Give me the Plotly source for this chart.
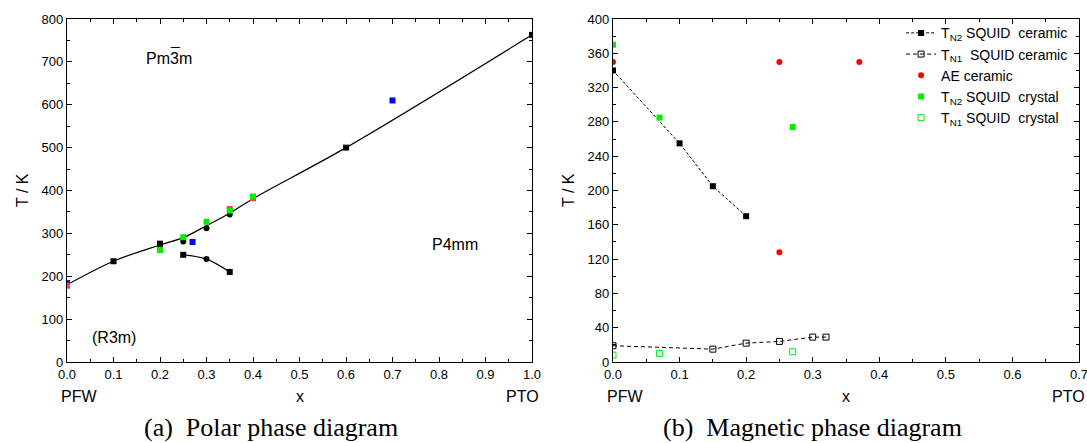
import plotly.graph_objects as go

W, H = 1087, 443

# ---------------- Panel (a): polar phase diagram ----------------
a_line_x = [0.0, 0.1, 0.2, 0.25, 0.3, 0.35, 0.4, 0.6, 1.0]
a_line_y = [180, 235, 273, 290, 318, 347, 381, 500, 763]
a_low_x = [0.25, 0.3, 0.35]
a_low_y = [250, 240, 210]
a_blksq_x = [0.1, 0.2, 0.25, 0.35, 0.6, 1.0]
a_blksq_y = [235, 276, 250, 210, 500, 763]
a_blkci_x = [0.25, 0.3, 0.35, 0.3]
a_blkci_y = [281, 312, 344, 240]
a_green_x = [0.2, 0.25, 0.3, 0.35, 0.4]
a_green_y = [261, 291, 327, 353, 386]
a_red_x = [0.0, 0.2, 0.35, 0.4]
a_red_y = [178, 266, 357, 382]
a_blue_x = [0.0, 0.27, 0.7]
a_blue_y = [184, 280, 610]

# ---------------- Panel (b): magnetic phase diagram ----------------
tn2_cer_x = [0.0, 0.1, 0.15, 0.2]
tn2_cer_y = [340, 255, 205, 170]
tn1_cer_x = [0.0, 0.15, 0.2, 0.25, 0.3, 0.32]
tn1_cer_y = [19, 15, 22, 24, 29, 29]
ae_x = [0.0, 0.25, 0.37, 0.25]
ae_y = [350, 350, 350, 128]
tn2_cry_x = [0.0, 0.07, 0.27]
tn2_cry_y = [370, 285, 274]
tn1_cry_x = [0.0, 0.07, 0.27]
tn1_cry_y = [8, 10, 12]

FONT = "Liberation Sans, Arial, sans-serif"
SERIF = "Liberation Serif, Times New Roman, serif"
SP = "\u00a0"

fig = go.Figure()

# panel a traces
fig.add_trace(go.Scatter(x=a_line_x, y=a_line_y, mode="lines", line=dict(color="black", width=1.2, shape="spline"),
                         xaxis="x", yaxis="y", showlegend=False, hoverinfo="skip"))
fig.add_trace(go.Scatter(x=a_low_x, y=a_low_y, mode="lines", line=dict(color="black", width=1.2, shape="spline"),
                         xaxis="x", yaxis="y", showlegend=False, hoverinfo="skip"))
fig.add_trace(go.Scatter(x=a_blue_x, y=a_blue_y, mode="markers", marker=dict(symbol="square", size=6, color="#0000ff"),
                         xaxis="x", yaxis="y", showlegend=False))
fig.add_trace(go.Scatter(x=a_red_x, y=a_red_y, mode="markers", marker=dict(symbol="square", size=6, color="#ff4040"),
                         xaxis="x", yaxis="y", showlegend=False))
fig.add_trace(go.Scatter(x=a_blkci_x, y=a_blkci_y, mode="markers", marker=dict(symbol="circle", size=6, color="black"),
                         xaxis="x", yaxis="y", showlegend=False))
fig.add_trace(go.Scatter(x=a_green_x, y=a_green_y, mode="markers", marker=dict(symbol="square", size=6, color="#00ee00"),
                         xaxis="x", yaxis="y", showlegend=False))
fig.add_trace(go.Scatter(x=a_blksq_x, y=a_blksq_y, mode="markers", marker=dict(symbol="square", size=6, color="black"),
                         xaxis="x", yaxis="y", showlegend=False))

# panel b traces
fig.add_trace(go.Scatter(x=tn2_cer_x, y=tn2_cer_y, mode="lines+markers", name="T<sub>N2</sub> SQUID " + SP + "ceramic",
                         line=dict(color="black", width=1, dash="3px,2px"),
                         marker=dict(symbol="square", size=6, color="black"), xaxis="x2", yaxis="y2"))
fig.add_trace(go.Scatter(x=tn1_cer_x, y=tn1_cer_y, mode="lines+markers", name="T<sub>N1</sub> " + SP + "SQUID ceramic",
                         line=dict(color="black", width=1, dash="4px,3px"),
                         marker=dict(symbol="square-open", size=6, color="black", line=dict(width=1)), xaxis="x2", yaxis="y2"))
fig.add_trace(go.Scatter(x=ae_x, y=ae_y, mode="markers", name="AE ceramic",
                         marker=dict(symbol="circle", size=6, color="#ff0000"), xaxis="x2", yaxis="y2"))
fig.add_trace(go.Scatter(x=tn2_cry_x, y=tn2_cry_y, mode="markers", name="T<sub>N2</sub> SQUID " + SP + "crystal",
                         marker=dict(symbol="square", size=6, color="#00ee00"), xaxis="x2", yaxis="y2"))
fig.add_trace(go.Scatter(x=tn1_cry_x, y=tn1_cry_y, mode="markers", name="T<sub>N1</sub> SQUID " + SP + "crystal",
                         marker=dict(symbol="square-open", size=6, color="#00ee00", line=dict(width=1)), xaxis="x2", yaxis="y2"))

ydom = [1 - 362 / H, 1 - 19 / H]
common = dict(showline=True, linecolor="black", linewidth=1.3, mirror="allticks", ticks="inside", ticklen=5,
              tickcolor="black", tickwidth=1, showgrid=False, zeroline=False, automargin=False,
              ticklabeloverflow="allow",
              tickfont=dict(family=FONT, size=13, color="black"))

fig.update_layout(
    width=W, height=H, margin=dict(l=0, r=0, t=0, b=0, autoexpand=False),
    paper_bgcolor="white", plot_bgcolor="white",
    xaxis=dict(domain=[67 / W, 532 / W], range=[0, 1.0], dtick=0.1, tickformat=".1f", anchor="y",
               minor=dict(ticks="inside", ticklen=3, dtick=0.05, tickcolor="black"), **common),
    yaxis=dict(domain=ydom, range=[0, 800], dtick=100, anchor="x",
               minor=dict(ticks="inside", ticklen=3, dtick=50, tickcolor="black"), **common),
    xaxis2=dict(domain=[613 / W, 1079 / W], range=[0, 0.7], dtick=0.1, tickformat=".1f", anchor="y2",
                minor=dict(ticks="inside", ticklen=3, dtick=0.05, tickcolor="black"), **common),
    yaxis2=dict(domain=ydom, range=[0, 400], dtick=40, anchor="x2",
                minor=dict(ticks="inside", ticklen=3, dtick=20, tickcolor="black"), **common),
    legend=dict(x=0.829, y=0.961, xanchor="left", yanchor="top", bgcolor="rgba(0,0,0,0)",
                font=dict(family=FONT, size=14, color="black"), tracegroupgap=0),
    font=dict(family=FONT, color="black"),
)

ann = []
def pa(text, x, y, size=16, xanchor="center", family=FONT, angle=0, xref="paper", yref="paper", xshift=0, yshift=0):
    ann.append(dict(text=text, x=x, y=y, xref=xref, yref=yref, xanchor=xanchor, yanchor="middle",
                    showarrow=False, textangle=angle, xshift=xshift, yshift=yshift,
                    font=dict(family=family, size=size, color="black")))

# panel a labels
pa("Pm3m", 0.22, 707, xref="x", yref="y")
pa("\u00af", 0.22, 707, xref="x", yref="y", xshift=5.3, yshift=4)
pa("P4mm", 0.835, 275, xref="x", yref="y")
pa("(R3m)", 0.1, 56, xref="x", yref="y")
pa("T / K", 22 / W, 1 - 190 / H, angle=-90)
pa("x", 0.5, 1 - 396 / H, xref="x")
pa("PFW", 59 / W, 1 - 396 / H, xanchor="left")
pa("PTO", 541 / W, 1 - 396 / H, xanchor="right")
pa("(a)  Polar phase diagram", 271 / W, 1 - 427 / H, size=26, family=SERIF)
# panel b labels
pa("T / K", 568 / W, 1 - 190 / H, angle=-90)
pa("x", 0.35, 1 - 396 / H, xref="x2")
pa("PFW", 605 / W, 1 - 396 / H, xanchor="left")
pa("PTO", 1087 / W, 1 - 396 / H, xanchor="right")
pa("(b)  Magnetic phase diagram", 812 / W, 1 - 427 / H, size=26, family=SERIF)

fig.update_layout(annotations=ann)
fig.write_html("out.html", config={"displayModeBar": False},
               post_script="document.body.style.margin='0';document.body.style.overflow='hidden';")
